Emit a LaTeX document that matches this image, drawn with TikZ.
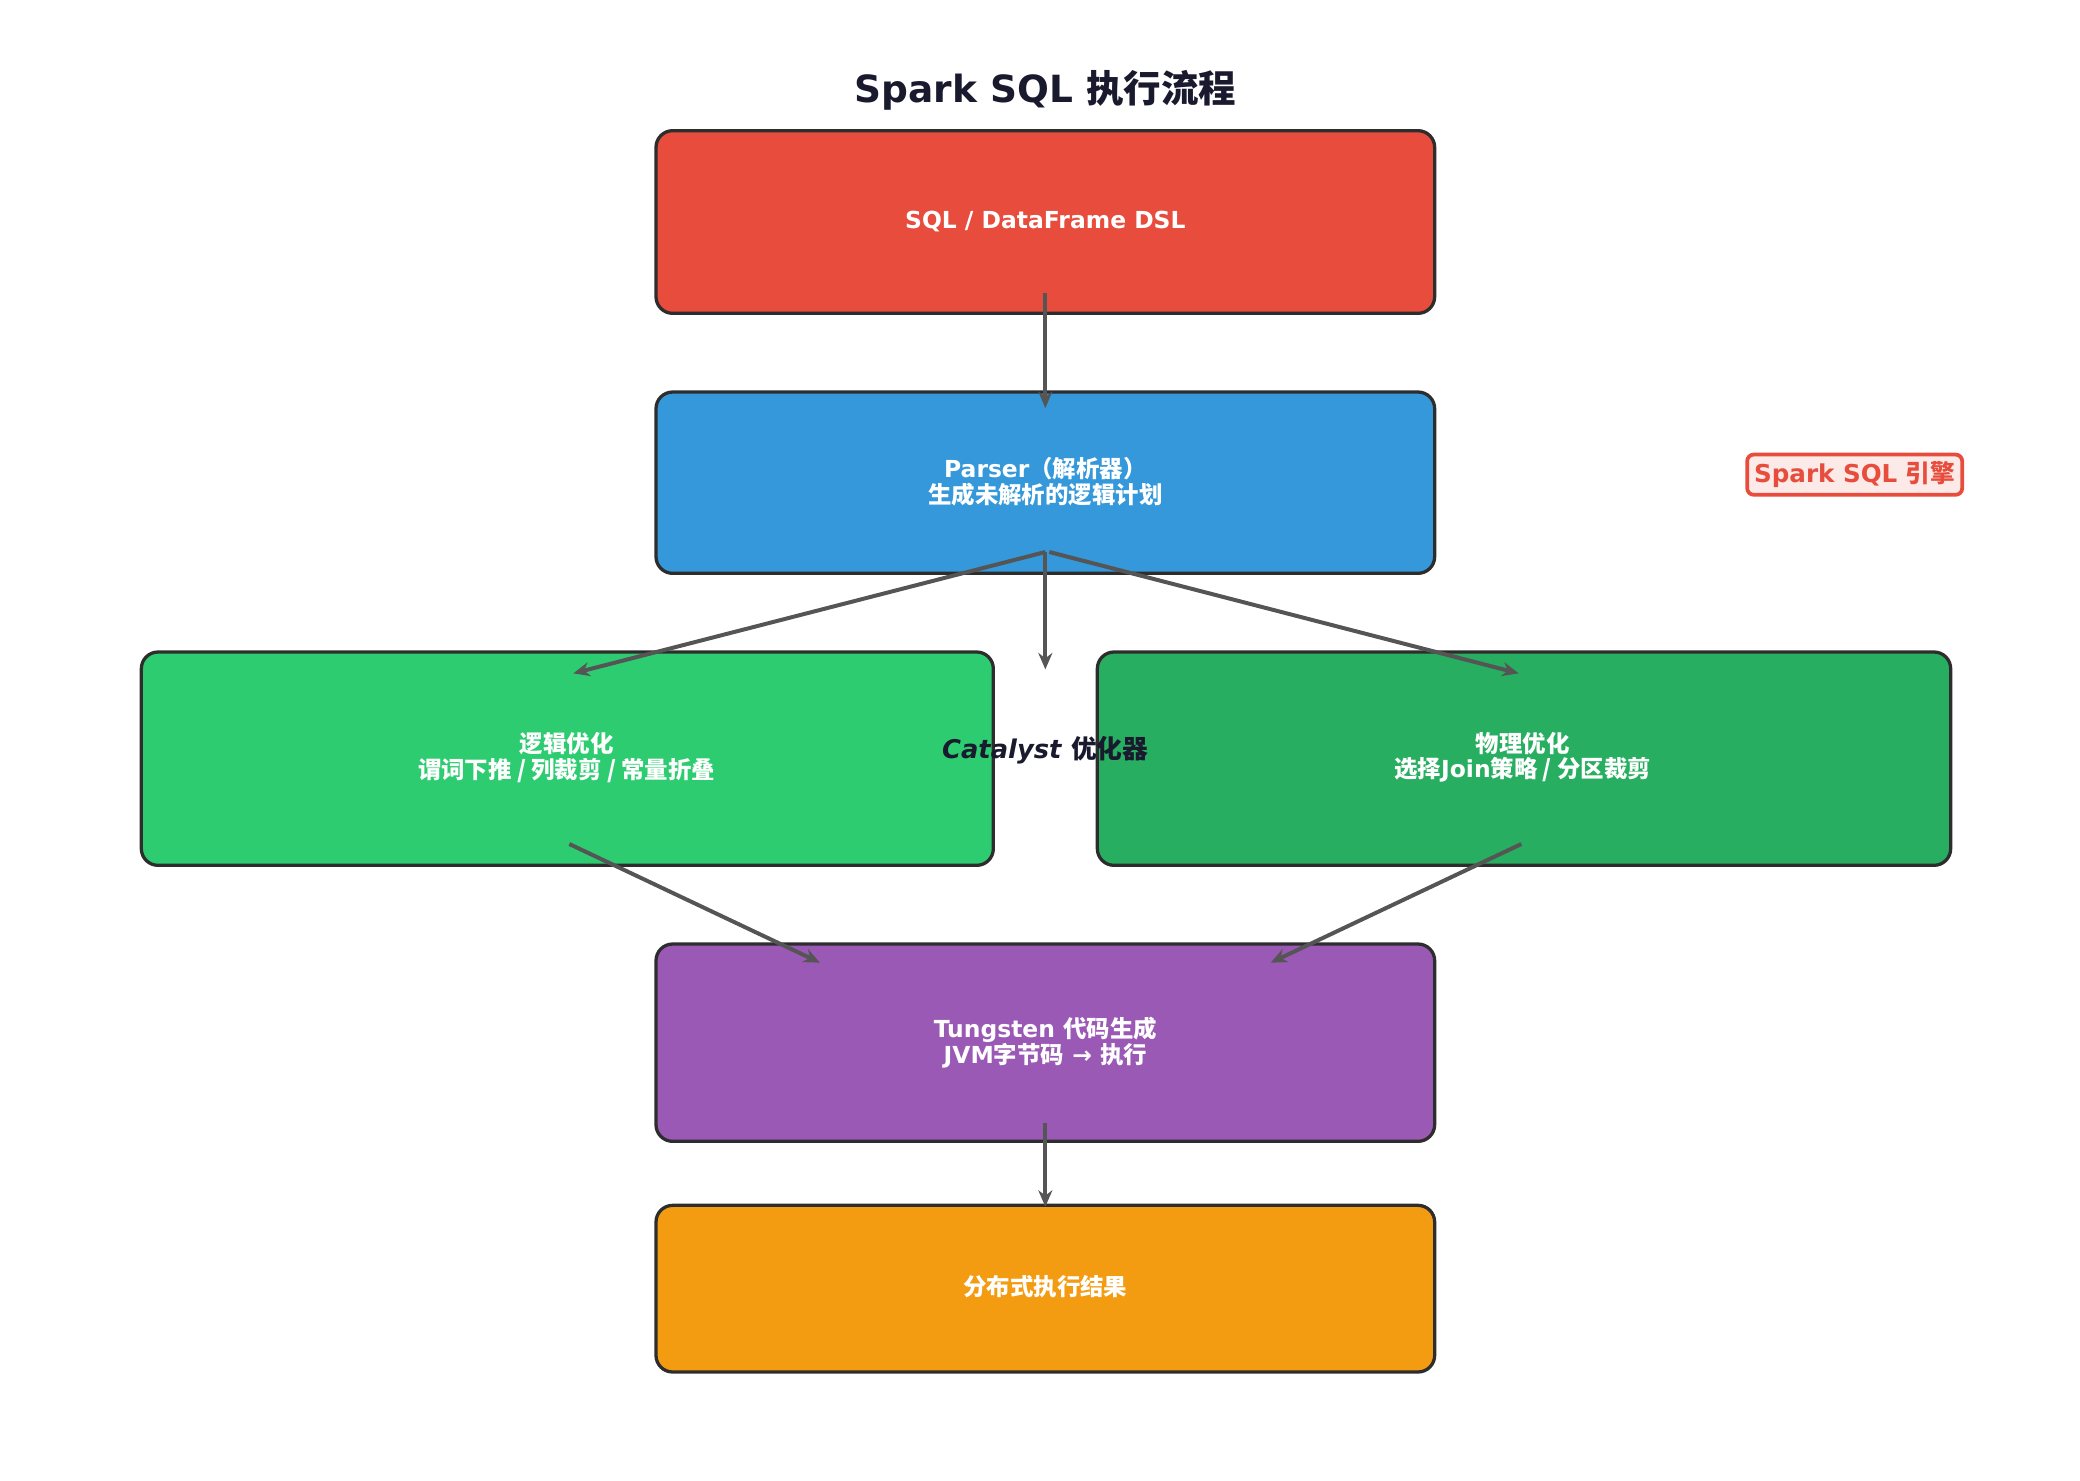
\documentclass[tikz,border=0pt]{standalone}
\usepackage{fontspec}
\setmainfont{DejaVu Sans}
\newfontfamily\cjk{Noto Sans CJK SC}
\usetikzlibrary{arrows.meta}
\definecolor{cRed}{HTML}{E74C3C}
\definecolor{cBlue}{HTML}{3498DB}
\definecolor{cGreen}{HTML}{2ECC71}
\definecolor{cDkGreen}{HTML}{27AE60}
\definecolor{cPurple}{HTML}{9B59B6}
\definecolor{cOrange}{HTML}{F39C12}
\definecolor{cEdge}{HTML}{2D2D2D}
\definecolor{cArrow}{HTML}{555555}
\definecolor{cTitle}{HTML}{1A1A2E}
\begin{document}
\begin{tikzpicture}[x=0.02cm,y=-0.02cm,
  stage/.style={draw=cEdge, line width=1.4pt, rounded corners=0.25cm, text=white,
    font=\fontsize{10pt}{11pt}\selectfont\bfseries, align=center},
  flow/.style={draw=cArrow, line width=1.7pt, -{Stealth[length=7pt,width=6pt]}}]
\useasboundingbox (0,0) rectangle (1560,1110);

\node (title) at (784,68) [text=cTitle, font=\fontsize{16pt}{18pt}\selectfont\bfseries] {Spark SQL {\cjk 执行流程}};

\path[stage, fill=cRed] (492,98) rectangle (1076,235);
\node (sql) at (784,166) [stage, draw=none] {SQL / DataFrame DSL};

\path[stage, fill=cBlue] (492,294) rectangle (1076,430);
\node (parser) at (784,361) [stage, draw=none] {Parser{\cjk （解析器）}\\{\cjk 生成未解析的逻辑计划}};

\path[stage, fill=cGreen] (106,489) rectangle (745,649);
\node (logic) at (425,568) [stage, draw=none] {{\cjk 逻辑优化}\\{\cjk 谓词下推 / 列裁剪 / 常量折叠}};

\path[stage, fill=cDkGreen] (823,489) rectangle (1463,649);
\node (phys) at (1142,568) [stage, draw=none] {{\cjk 物理优化}\\{\cjk 选择}Join{\cjk 策略 / 分区裁剪}};

\node (catalyst) at (784,563) [text=cTitle, font=\fontsize{11pt}{12pt}\selectfont\bfseries] {\textit{Catalyst} {\cjk 优化器}};

\path[stage, fill=cPurple] (492,708) rectangle (1076,856);
\node (tung) at (784,782) [stage, draw=none] {Tungsten {\cjk 代码生成}\\JVM{\cjk 字节码} → {\cjk 执行}};

\path[stage, fill=cOrange] (492,904) rectangle (1076,1029);
\node (result) at (784,965) [stage, draw=none] {{\cjk 分布式执行结果}};

\node (engine) at (1391,356) [draw=cRed, line width=1.6pt, fill=cRed!12, rounded corners=0.1cm,
  text=cRed, inner sep=3pt, font=\fontsize{10.5pt}{12pt}\selectfont\bfseries] {Spark SQL {\cjk 引擎}};

% arrows
\coordinate (a1) at (784,220); \coordinate (b1) at (784,306);
\coordinate (a2) at (784,414); \coordinate (b2) at (430,505);
\coordinate (b3) at (784,502); \coordinate (a4) at (787,414);
\coordinate (b4) at (1139,505);
\coordinate (a5) at (427,633); \coordinate (b5) at (615,722);
\coordinate (a6) at (1141,633); \coordinate (b6) at (953,722);
\coordinate (a7) at (784,842); \coordinate (b7) at (784,905);
\draw[flow] (a1) -- (b1);
\draw[flow] (a2) -- (b2);
\draw[flow] (a2) -- (b3);
\draw[flow] (a4) -- (b4);
\draw[flow] (a5) -- (b5);
\draw[flow] (a6) -- (b6);
\draw[flow] (a7) -- (b7);
\end{tikzpicture}
\end{document}
